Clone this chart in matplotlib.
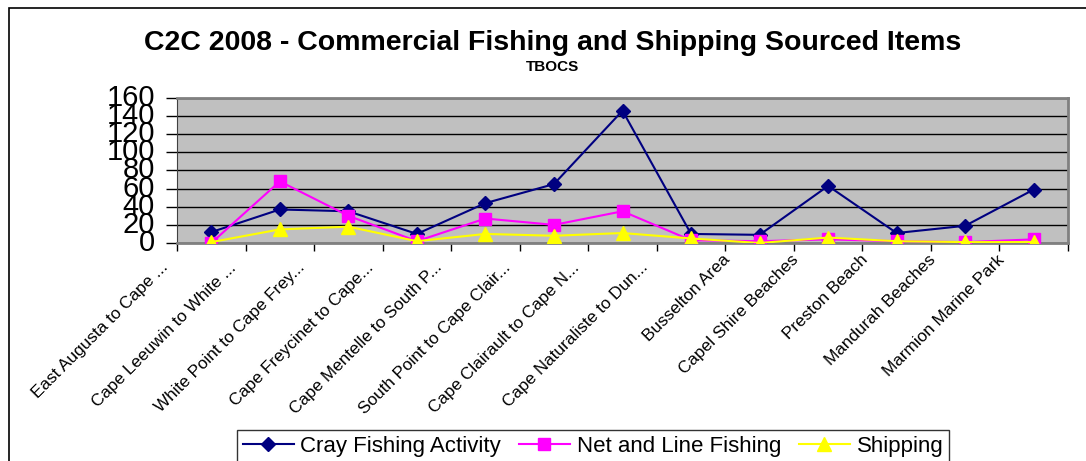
import matplotlib

matplotlib.use("Agg")
import matplotlib.pyplot as plt
from matplotlib.patches import Rectangle
from matplotlib.transforms import ScaledTranslation

plt.rcParams["font.family"] = ["Liberation Sans", "DejaVu Sans"]

categories = [
    "East Augusta to Cape ...",
    "Cape Leeuwin to White ...",
    "White Point to Cape Frey...",
    "Cape Freycinet to Cape...",
    "Cape Mentelle to South P...",
    "South Point to Cape Clair...",
    "Cape Clairault to Cape N...",
    "Cape Naturaliste to Dun...",
    "Busselton Area",
    "Capel Shire Beaches",
    "Preston Beach",
    "Mandurah Beaches",
    "Marmion Marine Park",
]
cray_fishing = [12, 37, 35, 10, 44, 65, 146, 10, 9, 63, 11, 19, 59]
net_and_line = [0, 68, 30, 2, 27, 20, 35, 3, 2, 4, 2, 1, 4]
shipping = [1, 15, 18, 2, 10, 8, 11, 5, 0, 6, 2, 1, 1]

W, H = 1086, 461
fig = plt.figure(figsize=(W / 100, H / 100), dpi=100)
ax = fig.add_axes([177 / W, 1 - 243 / H, (1068 - 177) / W, (243 - 98) / H])
ax.set_facecolor("#C0C0C0")

xs = [i + 0.5 for i in range(len(categories))]
ax.plot(xs, cray_fishing, color="#000080", marker="D", markersize=7,
        linewidth=1.5, label="Cray Fishing Activity", zorder=3)
ax.plot(xs, net_and_line, color="#FF00FF", marker="s", markersize=8,
        linewidth=1.5, label="Net and Line Fishing", zorder=3)
ax.plot(xs, shipping, color="#FFFF00", marker="^", markersize=10,
        linewidth=1.5, label="Shipping", zorder=3)

ax.set_xlim(0, len(categories))
ax.set_ylim(0, 160)
ax.set_yticks(range(0, 161, 20))
ax.yaxis.grid(True, color="black", linewidth=1)
ax.set_axisbelow(True)
ax.tick_params(axis="y", labelsize=21, length=8, width=1, pad=8)
for label in ax.get_yticklabels():
    label.set_verticalalignment("center")

# category boundary ticks, labels centred in each category
ax.set_xticks(range(len(categories) + 1))
ax.set_xticklabels([])
ax.set_xticks(xs, minor=True)
ax.set_xticklabels(categories, minor=True, rotation=45, ha="right",
                   rotation_mode="anchor", fontsize=12.3)
ax.tick_params(axis="x", which="major", length=6, width=1, direction="out")
ax.tick_params(axis="x", which="minor", length=0, pad=10)
# Excel sits truncated labels a little further left than full ones
for label in ax.get_xticklabels(minor=True):
    if label.get_text().endswith("..."):
        shift = ScaledTranslation(-51 / 100, -3 / 100, fig.dpi_scale_trans)
    else:
        shift = ScaledTranslation(-37 / 100, 5 / 100, fig.dpi_scale_trans)
    label.set_transform(label.get_transform() + shift)

for side in ("top", "right"):
    ax.spines[side].set_color("#808080")
    ax.spines[side].set_linewidth(2)
ax.spines["left"].set_color("#404040")
ax.spines["bottom"].set_color("#808080")
ax.spines["bottom"].set_linewidth(2)

fig.text(553 / W, 1 - 43 / H, "C2C 2008 - Commercial Fishing and Shipping Sourced Items",
         ha="center", va="center", fontsize=20.5, fontweight="bold")
fig.text(553 / W, 1 - 67 / H, "TBOCS", ha="center", va="center",
         fontsize=11, fontweight="bold")

fig.patches.append(Rectangle((9 / W, -0.1), 1.2, 1 - 8 / H + 0.1,
                             transform=fig.transFigure, fill=False,
                             edgecolor="black", linewidth=1.2))

leg = fig.legend(loc="upper center", bbox_to_anchor=(593 / W, 1 - 430 / H),
                 ncol=3, fontsize=16, frameon=True, fancybox=False,
                 edgecolor="black", handlelength=2.3, handletextpad=0.3,
                 columnspacing=0.8, borderpad=0.25, borderaxespad=0)
leg.get_frame().set_linewidth(1)

fig.savefig("out.png", dpi=100)
